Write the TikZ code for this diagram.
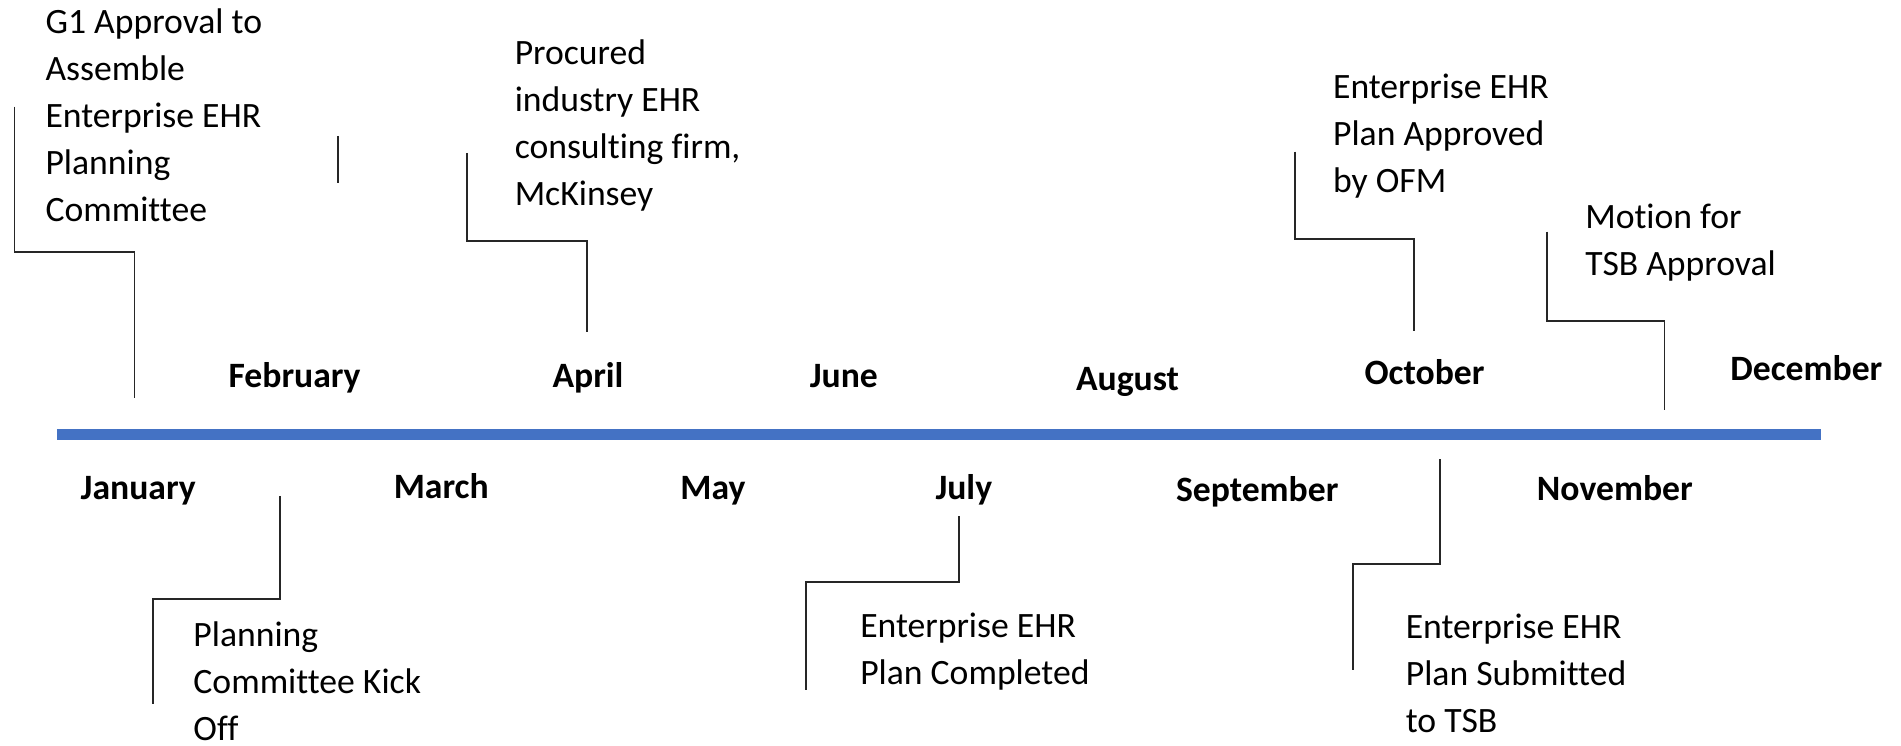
\documentclass[tikz,border=0pt]{standalone}
\usepackage{fontspec}
\setmainfont{Carlito}[Ligatures=NoCommon]
\usetikzlibrary{positioning}
\definecolor{axisblue}{HTML}{4472C4}
\tikzset{
  % styles
  month/.style={
    anchor=base,
    inner sep=0pt,
    font=\fontsize{10.15}{13.4}\selectfont\bfseries,
  },
  event/.style={
    anchor=base west,
    inner sep=0pt,
    align=left,
    font=\fontsize{10.15}{13.4}\selectfont,
  },
  leader/.style={
    draw=black!85,
    line width=0.5pt,
  },
  axis/.style={
    draw=axisblue,
    line width=3.1pt,
  }
}

\begin{document}
\begin{tikzpicture}[x=0.012124cm,y=-0.012124cm]
  \useasboundingbox (0,0) rectangle (1568,615.3);

  % timeline
  \coordinate (start) at (47,358.5);
  \coordinate (stop)  at (1502,358.5);
  \draw [axis] (start) -- (stop);

  % months above
  \node [month] (feb) at (243,320)  {February};
  \node [month] (apr) at (485,320)  {April};
  \node [month] (jun) at (696,320)  {June};
  \node [month] (aug) at (930,322)  {August};
  \node [month] (oct) at (1175,317) {October};
  \node [month] (dec) at (1490,314) {December};

  % months below
  \node [month] (jan) at (114,412)  {January};
  \node [month] (mar) at (364,411)  {March};
  \node [month] (may) at (588,412)  {May};
  \node [month] (jul) at (795,412)  {July};
  \node [month] (sep) at (1037,414) {September};
  \node [month] (nov) at (1332,413) {November};

  % events (anchored on the last line)
  \node [event] (g1)        at (37,183)    {G1 Approval to\\Assemble\\Enterprise EHR\\Planning\\Committee};
  \node [event] (procured)  at (424,169.5) {Procured\\industry EHR\\consulting firm,\\McKinsey};
  \node [event] (approved)  at (1099,159)  {Enterprise EHR\\Plan Approved\\by OFM};
  \node [event] (motion)    at (1307,227.5){Motion for\\TSB Approval};
  \node [event] (kickoff)   at (159,611)   {Planning\\Committee Kick\\Off};
  \node [event] (completed) at (709,565)   {Enterprise EHR\\Plan Completed};
  \node [event] (submitted) at (1159,604)  {Enterprise EHR\\Plan Submitted\\to TSB};

  % leader ends
  \coordinate (g1 top)        at (12,88);
  \coordinate (g1 foot)       at (111,328);
  \coordinate (procured top)  at (385,126);
  \coordinate (procured foot) at (484,274);
  \coordinate (approved top)  at (1068,125);
  \coordinate (approved foot) at (1166,273);
  \coordinate (motion top)    at (1276,191);
  \coordinate (motion foot)   at (1373,338);
  \coordinate (kickoff top)   at (231,409);
  \coordinate (kickoff foot)  at (126,581);
  \coordinate (completed top) at (791,426);
  \coordinate (completed foot)at (665,569);
  \coordinate (submitted top) at (1188,379);
  \coordinate (submitted foot)at (1116,553);
  \coordinate (stray top)     at (279,112);
  \coordinate (stray foot)    at (279,151);

  % leaders
  \draw [leader] (g1 top) -- ++(0,120) -| (g1 foot);
  \draw [leader] (procured top) -- ++(0,73) -| (procured foot);
  \draw [leader] (approved top) -- ++(0,72) -| (approved foot);
  \draw [leader] (motion top) -- ++(0,74) -| (motion foot);
  \draw [leader] (kickoff top) -- ++(0,85) -| (kickoff foot);
  \draw [leader] (completed top) -- ++(0,54) -| (completed foot);
  \draw [leader] (submitted top) -- ++(0,86) -| (submitted foot);
  \draw [leader] (stray top) -- (stray foot);
\end{tikzpicture}
\end{document}
